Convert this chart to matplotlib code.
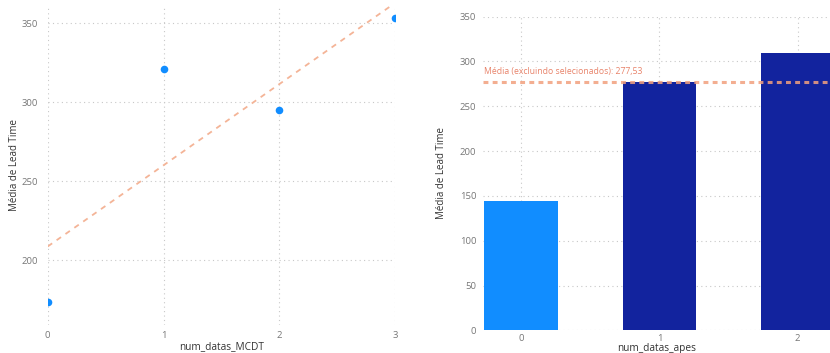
import numpy as np
import matplotlib
matplotlib.use("Agg")
import matplotlib.pyplot as plt

plt.rcParams['font.family'] = ['Open Sans', 'DejaVu Sans']

# dados do gráfico de dispersão (esquerda)
mcdt_x = [0, 1, 2, 3]
mcdt_lead = [173.4, 320.9, 295.1, 353.2]

# dados do gráfico de colunas (direita)
apes_cat = [0, 1, 2]
apes_lead = [144.3, 277.0, 309.2]
apes_cores = ['#118DFF', '#12239E', '#12239E']
media_excl = 277.53

cor_tick = '#777777'
cor_label = '#333333'
cor_grid = '#C8C8C8'

fig = plt.figure(figsize=(8.30, 3.53), dpi=100)

# ---- esquerda: dispersão com linha de tendência
ax1 = fig.add_axes([0.0575, 0.0793, 0.4185, 0.9065])
ax1.scatter(mcdt_x, mcdt_lead, s=30, color='#118DFF', zorder=3, linewidths=0, clip_on=True)
coef = np.polyfit(mcdt_x, mcdt_lead, 1)
xs = np.array([0, 3])
ax1.plot(xs, np.polyval(coef, xs), color='#F4B497', lw=1.3, ls=(0, (3, 3)), zorder=2)
ax1.set_xlim(0, 3)
ax1.set_ylim(158.9, 361.4)
ax1.set_xticks(mcdt_x)
ax1.set_yticks([200, 250, 300, 350])
ax1.grid(True, color=cor_grid, ls=(0, (1, 3)), lw=0.8)
ax1.set_xlabel('num_datas_MCDT', fontsize=7.3, color=cor_label, labelpad=1)
ax1.set_ylabel('Média de Lead Time', fontsize=7.0, color=cor_label, labelpad=1)
ax1.tick_params(length=0, labelsize=6.8, colors=cor_tick)
ax1.tick_params(axis='y', pad=7)
ax1.tick_params(axis='x', pad=4)
for s in ax1.spines.values():
    s.set_visible(False)

# ---- direita: colunas com linha de média
ax2 = fig.add_axes([0.582, 0.0643, 0.418, 0.8884])
ax2.bar(apes_cat, apes_lead, width=0.53, color=apes_cores, zorder=2)
ax2.axhline(media_excl, color='#F2A07E', lw=2.2, ls=(0, (1.6, 1.4)), alpha=0.85, zorder=3)
ax2.text(-0.27, media_excl + 6, 'Média (excluindo selecionados): 277,53',
         fontsize=6.2, color='#E8836A', ha='left', va='bottom')
ax2.set_xlim(-0.275, 2.234)
ax2.set_ylim(0, 350)
ax2.set_xticks(apes_cat)
ax2.set_yticks(range(0, 351, 50))
ax2.grid(True, color=cor_grid, ls=(0, (1, 3)), lw=0.8, zorder=0)
ax2.set_axisbelow(True)
ax2.set_xlabel('num_datas_apes', fontsize=7.3, color=cor_label, labelpad=0)
ax2.set_ylabel('Média de Lead Time', fontsize=7.0, color=cor_label, labelpad=9)
ax2.tick_params(length=0, labelsize=6.8, colors=cor_tick)
ax2.tick_params(axis='y', pad=5)
ax2.tick_params(axis='x', pad=3)
for s in ax2.spines.values():
    s.set_visible(False)

fig.savefig('out.png', dpi=100)
